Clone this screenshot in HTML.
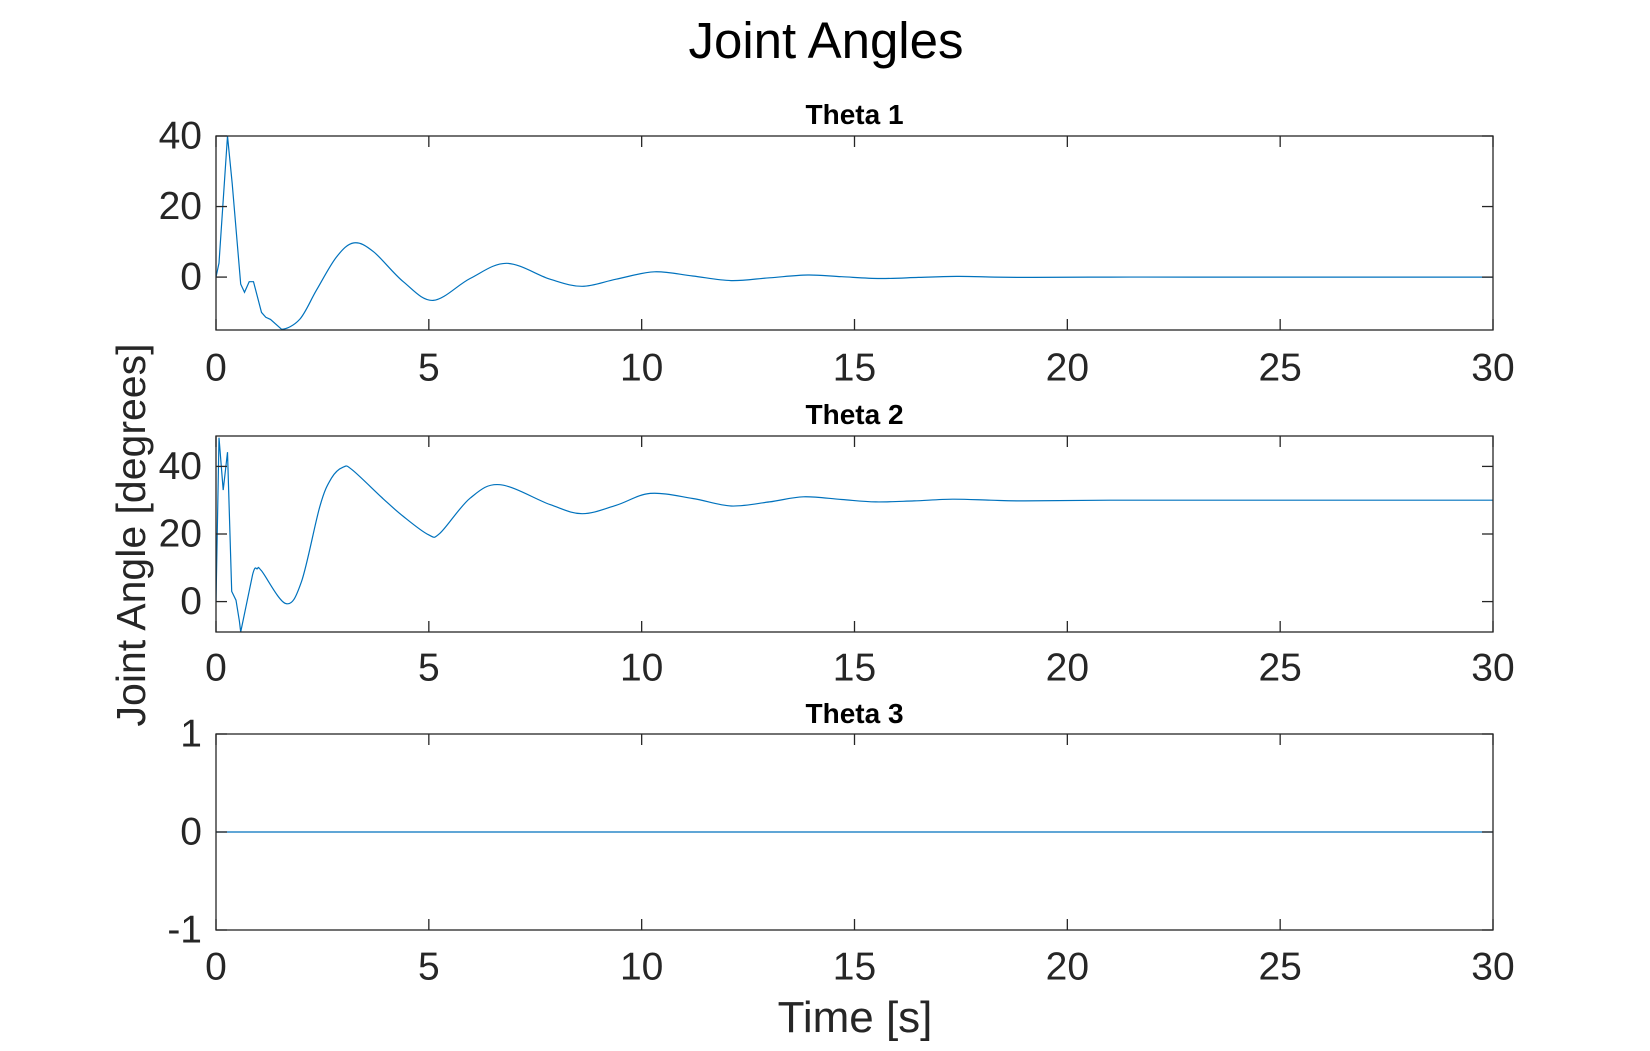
<!DOCTYPE html>
<html><head><meta charset="utf-8"><style>
html,body{margin:0;padding:0;background:#fff;}
svg text{font-family:"Liberation Sans",Arial,sans-serif;fill:#262626;}
</style></head><body>
<svg id="fig" width="1650" height="1046" viewBox="0 0 1650 1046" xmlns="http://www.w3.org/2000/svg">
<rect width="1650" height="1046" fill="#fff"/>
<text x="826" y="58" font-size="51" text-anchor="middle" style="fill:#000">Joint Angles</text>
<text x="855" y="1032" font-size="44" text-anchor="middle">Time [s]</text>
<text transform="translate(145,535) rotate(-90)" font-size="41" text-anchor="middle">Joint Angle [degrees]</text>
<g id="plots"></g>
</svg>
<script>
const xTicks=[0,5,10,15,20,25,30];
const t1Times=[0,0.07,0.27,0.38,0.58,0.67,0.78,0.88,1.07,1.17,1.28,1.54,1.97,2.36,2.83,3.24,3.7,4.4,5.1,5.97,6.83,7.85,8.6,9.4,10.3,11.2,12.1,13.0,13.9,14.7,15.6,16.5,17.4,18.3,19.2,21,23,26,30];
const t1Vals=[0,4,40,26.5,-2,-4.3,-1.3,-1.3,-10,-11.4,-12,-14.8,-11.9,-3.7,5.7,9.7,7.2,-1.3,-6.6,-0.4,3.9,-0.6,-2.6,-0.6,1.5,0.3,-1.0,-0.2,0.6,0.1,-0.4,-0.1,0.2,0,-0.1,0,0,0,0];
const t2Times=[0,0.07,0.17,0.27,0.37,0.47,0.55,0.58,0.86,0.97,1.07,1.64,2.01,2.44,2.71,2.99,3.2,3.93,4.4,4.99,5.26,5.97,6.67,7.85,8.6,9.4,10.2,11.2,12.1,13.0,13.8,14.7,15.5,16.4,17.3,18.2,19,21,24,30];
const t2Vals=[0,48.5,33,44.2,3,0.4,-5.8,-9,8,9.7,9.1,-0.6,6,28.2,36.5,39.8,39,30.4,25.2,19.8,20.2,30.6,34.6,28.7,26,28.5,32,30.5,28.3,29.5,31,30.2,29.5,29.8,30.3,30,29.8,30,30,30];
const t3Times=[0,30];
const t3Vals=[0,0];
const y1Ticks=[0,20,40], y2Ticks=[0,20,40], y3Ticks=[-1,0,1];
const panels=[
 {name:'theta-1',title:'Theta 1',top:136,bot:330,ymin:-15,ymax:40,yt:y1Ticks,tx:t1Times,v:t1Vals,titleY:124,xlY:368,smooth:11},
 {name:'theta-2',title:'Theta 2',top:436,bot:632,ymin:-9,ymax:49,yt:y2Ticks,tx:t2Times,v:t2Vals,titleY:424,xlY:668,smooth:8},
 {name:'theta-3',title:'Theta 3',top:734,bot:930,ymin:-1,ymax:1,yt:y3Ticks,tx:t3Times,v:t3Vals,titleY:723,xlY:967,smooth:99}
];
const L=216,R=1493;
const NS='http://www.w3.org/2000/svg';
const root=document.getElementById('plots');
function mk(tag,attrs,parent){const e=document.createElementNS(NS,tag);for(const k in attrs)e.setAttribute(k,attrs[k]);parent.appendChild(e);return e;}
const xs=t=>L+(t-0)/(30-0)*(R-L);
panels.forEach(p=>{
  const ys=v=>p.bot-(v-p.ymin)/(p.ymax-p.ymin)*(p.bot-p.top);
  const g=mk('g',{},root);
  
  
  const P=p.tx.map((t,i)=>[xs(t),ys(p.v[i])]);
  let d='M'+P[0][0].toFixed(1)+','+P[0][1].toFixed(1);
  for(let i=1;i<P.length;i++){
    if(i<=p.smooth){d+=' L'+P[i][0].toFixed(1)+','+P[i][1].toFixed(1);continue;}
    const p0=P[i-2]||P[i-1],p1=P[i-1],p2=P[i],p3=P[i+1]||P[i];
    const c1=[p1[0]+(p2[0]-p0[0])/6,p1[1]+(p2[1]-p0[1])/6];
    const c2=[p2[0]-(p3[0]-p1[0])/6,p2[1]-(p3[1]-p1[1])/6];
    d+=' C'+c1[0].toFixed(1)+','+c1[1].toFixed(1)+' '+c2[0].toFixed(1)+','+c2[1].toFixed(1)+' '+p2[0].toFixed(1)+','+p2[1].toFixed(1);
  }
  const cp=mk('clipPath',{id:'c'+p.name},g);
  mk('rect',{x:L,y:p.top,width:R-L,height:p.bot-p.top},cp);
  const line=mk('path',{d:d,fill:'none',stroke:'#0072bd',"stroke-width":1.2,"clip-path":'url(#c'+p.name+')'},g);
  
  
  const box=mk('rect',{x:L,y:p.top,width:R-L,height:p.bot-p.top,fill:'none',stroke:'#262626',"stroke-width":1.3},g);
  
  
  xTicks.forEach(t=>{
    const x=xs(t);
    mk('line',{x1:x,x2:x,y1:p.bot,y2:p.bot-11,stroke:'#262626',"stroke-width":1.3},g);
    mk('line',{x1:x,x2:x,y1:p.top,y2:p.top+11,stroke:'#262626',"stroke-width":1.3},g);
    const tl=mk('text',{x:x,y:p.xlY,"font-size":39,"text-anchor":'middle',"dominant-baseline":'central'},g);
    tl.textContent=t;
    
    
  });
  p.yt.forEach(v=>{
    const y=ys(v);
    mk('line',{x1:L,x2:L+11,y1:y,y2:y,stroke:'#262626',"stroke-width":1.3},g);
    mk('line',{x1:R,x2:R-11,y1:y,y2:y,stroke:'#262626',"stroke-width":1.3},g);
    const tl=mk('text',{x:202,y:y,"font-size":39,"text-anchor":'end',"dominant-baseline":'central'},g);
    tl.textContent=v;
    
    
  });
  const tt=mk('text',{x:(L+R)/2,y:p.titleY,"font-size":28,"font-weight":'bold',"text-anchor":'middle',style:'fill:#000'},g);
  tt.textContent=p.title;
  
  
});
</script>
</body></html>
